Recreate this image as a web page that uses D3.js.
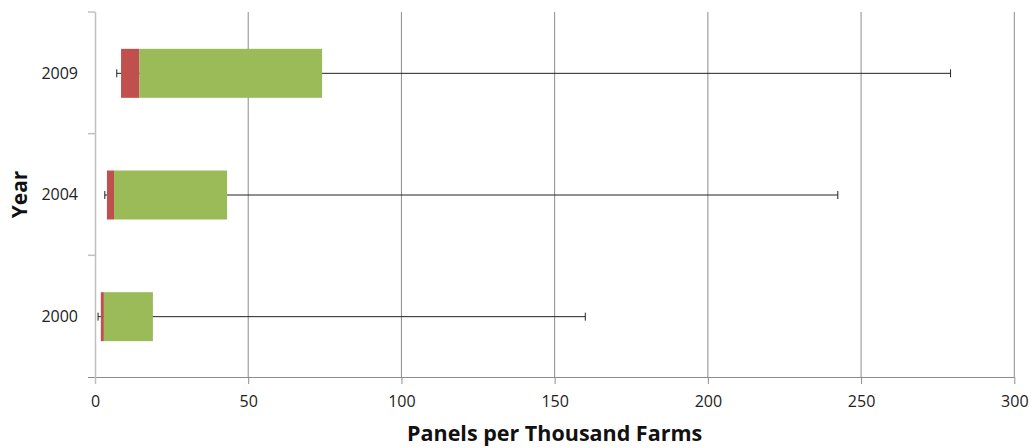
<!DOCTYPE html>
<html>
<head>
<meta charset="utf-8">
<script src="https://cdn.jsdelivr.net/npm/d3@7/dist/d3.min.js"></script>
<style>
  html, body { margin: 0; padding: 0; background: #fff; }
  svg { display: block; }
  text { font-family: "Open Sans", "DejaVu Sans", sans-serif; }
</style>
</head>
<body>
<svg id="chart" width="1034" height="448"></svg>
<script>
// Panels per thousand farms, by census year
const years = ["2009", "2004", "2000"];
const minValues = [7.1, 3.2, 1.0];        // lower whisker
const q1Values = [8.5, 3.9, 1.9];          // start of lower box
const medianValues = [14.5, 6.2, 2.9];     // lower box / upper box boundary
const q3Values = [74.1, 43.1, 18.9];       // end of upper box
const maxValues = [279.2, 242.4, 160.0];   // upper whisker
const xTicks = [0, 50, 100, 150, 200, 250, 300];

const rows = years.map((y, i) => ({
  year: y, min: minValues[i], q1: q1Values[i], med: medianValues[i],
  q3: q3Values[i], max: maxValues[i]
}));

const svg = d3.select("#chart");
const margin = { left: 95, right: 20, top: 12, bottom: 71 };
const W = 1034, H = 448;
const plotW = 1014.3 - margin.left;
const plotH = H - margin.top - margin.bottom;

const x = d3.scaleLinear().domain([0, 300]).range([0, plotW]);
const y = d3.scaleBand().domain(years).range([0, plotH]).paddingInner(0).paddingOuter(0);

const g = svg.append("g").attr("transform", `translate(${margin.left},${margin.top})`);

// vertical gridlines
g.append("g")
  .selectAll("line")
  .data(xTicks.filter(d => d > 0))
  .join("line")
  .attr("x1", d => x(d)).attr("x2", d => x(d))
  .attr("y1", 0).attr("y2", plotH)
  .attr("stroke", "#8c8c8c").attr("stroke-width", 1);

// x axis
const xAxis = g.append("g")
  .attr("transform", `translate(0,${plotH})`)
  .call(d3.axisBottom(x).tickValues(xTicks).tickSize(7).tickPadding(12));
xAxis.select(".domain").attr("d", `M-7,0.5H${plotW}`).attr("stroke", "#8c8c8c");
xAxis.selectAll(".tick line").attr("stroke", "#8c8c8c");
xAxis.selectAll(".tick text")
  .attr("font-size", 16).attr("fill", "#222")
  .attr("font-family", "'Open Sans', sans-serif");

// y axis with ticks at band boundaries
const yAxis = g.append("g");
yAxis.append("line")
  .attr("x1", 0.5).attr("x2", 0.5)
  .attr("y1", 0).attr("y2", plotH + 7)
  .attr("stroke", "#c0c0c0").attr("stroke-width", 1.5);
yAxis.selectAll("line.bt")
  .data(years.map(d => y(d)))
  .join("line").attr("class", "bt")
  .attr("x1", -7).attr("x2", 0)
  .attr("y1", d => d).attr("y2", d => d)
  .attr("stroke", "#c0c0c0").attr("stroke-width", 1.5);
yAxis.selectAll("text")
  .data(years)
  .join("text")
  .attr("x", -17)
  .attr("y", d => y(d) + y.bandwidth() / 2)
  .attr("dy", "0.36em")
  .attr("text-anchor", "end")
  .attr("font-size", 16).attr("fill", "#222")
  .text(d => d);

const barH = 49;
const boxes = g.append("g").selectAll("g").data(rows).join("g")
  .attr("transform", d => `translate(0,${y(d.year) + y.bandwidth() / 2 + 0.5})`);

// whisker line and caps
boxes.append("line")
  .attr("x1", d => x(d.min)).attr("x2", d => x(d.max))
  .attr("y1", 0).attr("y2", 0)
  .attr("stroke", "#222").attr("stroke-width", 1);
boxes.append("line")
  .attr("x1", d => x(d.min)).attr("x2", d => x(d.min))
  .attr("y1", -4).attr("y2", 4)
  .attr("stroke", "#222").attr("stroke-width", 1);
boxes.append("line")
  .attr("x1", d => x(d.max)).attr("x2", d => x(d.max))
  .attr("y1", -4).attr("y2", 4)
  .attr("stroke", "#222").attr("stroke-width", 1);

// lower box (q1 to median)
boxes.append("rect")
  .attr("x", d => x(d.q1)).attr("y", -barH / 2)
  .attr("width", d => x(d.med) - x(d.q1)).attr("height", barH)
  .attr("fill", "#c0504d");
// upper box (median to q3)
boxes.append("rect")
  .attr("x", d => x(d.med)).attr("y", -barH / 2)
  .attr("width", d => x(d.q3) - x(d.med)).attr("height", barH)
  .attr("fill", "#9bbb59");

// axis titles
svg.append("text")
  .attr("x", margin.left + plotW / 2).attr("y", 441)
  .attr("text-anchor", "middle")
  .attr("font-size", 21.5).attr("font-weight", "bold").attr("fill", "#111")
  .text("Panels per Thousand Farms");
svg.append("text")
  .attr("transform", `translate(27,${margin.top + plotH / 2}) rotate(-90)`)
  .attr("text-anchor", "middle")
  .attr("font-size", 21).attr("font-weight", "bold").attr("fill", "#111")
  .text("Year");
</script>
</body>
</html>
